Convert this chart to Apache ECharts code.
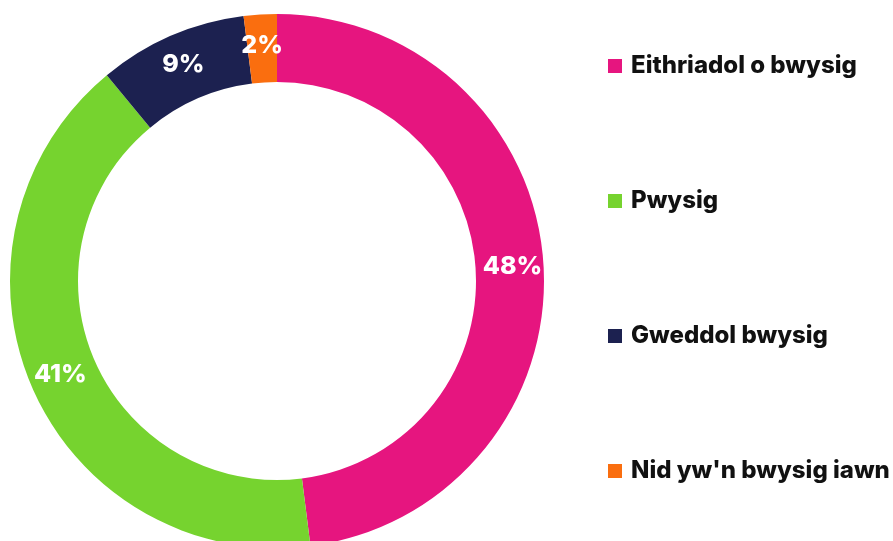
<!DOCTYPE html>
<html>
<head>
<meta charset="utf-8">
<script src="https://cdn.jsdelivr.net/npm/echarts@6/dist/echarts.min.js"></script>
<style>
  html, body { margin: 0; padding: 0; background: #fff; }
  #chart { width: 893px; height: 541px; }
</style>
</head>
<body>
<div id="chart"></div>
<script>
// categories and values
var categories = ["Eithriadol o bwysig", "Pwysig", "Gweddol bwysig", "Nid yw'n bwysig iawn"];
var values = [48, 41, 9, 2];
var colors = ["#E6157F", "#76D32F", "#1C2150", "#FA6E0F"];

var chart = echarts.init(document.getElementById("chart"));

var option = {
  color: colors,
  animation: false,
  legend: {
    orient: "vertical",
    left: 603,
    top: 49,
    padding: 5,
    itemWidth: 14,
    itemHeight: 14,
    itemGap: 111,
    icon: "rect",
    data: categories,
    textStyle: {
      fontFamily: "Inter",
      fontWeight: 800,
      fontSize: 24,
      lineHeight: 24,
      color: "#111",
      padding: [0, 0, 0, 4]
    }
  },
  series: [
    {
      type: "pie",
      center: [277, 281],
      radius: [199, 267],
      startAngle: 90,
      clockwise: true,
      avoidLabelOverlap: false,
      data: categories.map(function (name, i) {
        return { name: name, value: values[i] };
      }),
      label: {
        show: true,
        position: "inside",
        formatter: "{c}%",
        color: "#fff",
        fontFamily: "Inter",
        fontWeight: 800,
        fontSize: 25
      },
      labelLine: { show: false },
      itemStyle: { borderWidth: 0 },
      emphasis: { disabled: true }
    }
  ]
};

chart.setOption(option);
</script>
</body>
</html>
